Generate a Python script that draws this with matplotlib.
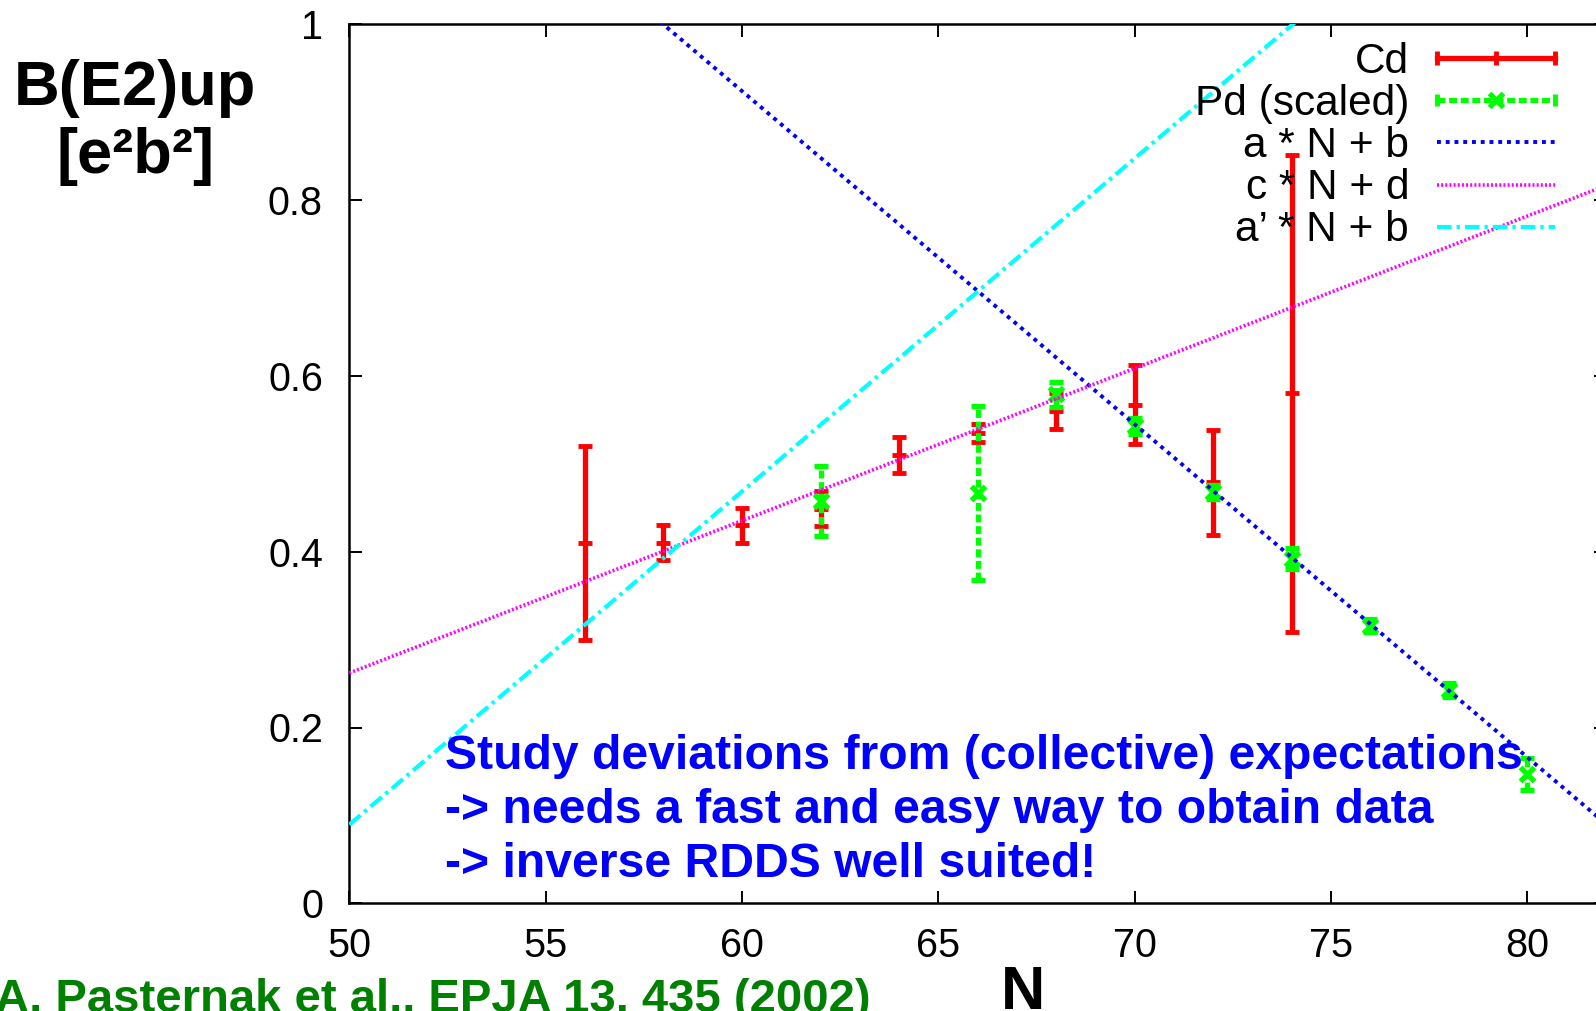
#!/usr/bin/env python3
"""B(E2)up systematics for Cd and (scaled) Pd isotopes versus neutron number."""

import numpy as np
import matplotlib
matplotlib.use("Agg")
import matplotlib.pyplot as plt
from matplotlib.lines import Line2D
from matplotlib.legend_handler import HandlerLine2D

W, H = 1596, 1011

# Cd measurements
cd_n = [56, 58, 60, 62, 64, 66, 68, 70, 72, 74]
cd_b = [0.410, 0.410, 0.430, 0.449, 0.510, 0.535, 0.560, 0.567, 0.479, 0.580]
cd_err = [0.110, 0.020, 0.020, 0.020, 0.020, 0.010, 0.020, 0.045, 0.060, 0.271]

# Pd measurements (scaled)
pd_n = [62, 66, 68, 70, 72, 74, 76, 78, 80]
pd_b = [0.458, 0.467, 0.579, 0.543, 0.468, 0.392, 0.316, 0.243, 0.147]
pd_err = [0.040, 0.099, 0.014, 0.009, 0.008, 0.012, 0.007, 0.008, 0.018]

# straight-line systematics
a, b = -0.0379, 3.198
c, d = 0.01733, -0.6045
a_p, b_p = 0.0379, -1.8055

y_ticks = [0, 0.2, 0.4, 0.6, 0.8, 1.0]
y_tick_labels = ["0", "0.2", "0.4", "0.6", "0.8", "1"]
x_ticks = [50, 55, 60, 65, 70, 75, 80]

notes = ["Study deviations from (collective) expectations",
         "-> needs a fast and easy way to obtain data",
         "-> inverse RDDS well suited!"]
reference = "A. Pasternak et al., EPJA 13, 435 (2002)"

RED = "#ff0000"
GREEN = "#00ff00"
BLUE = "#0000ff"
MAGENTA = "#ff00ff"
CYAN = "#00ffff"

plt.rcParams['font.family'] = ['Liberation Sans', 'DejaVu Sans']


def px(x, y):
    """pixel position -> figure fraction"""
    return x / W, 1 - y / H


fig = plt.figure(figsize=(W / 100, H / 100), dpi=100)
# the frame runs on past the right edge of the figure
ax = fig.add_axes([349.3 / W, 1 - 903.3 / H, (1606 - 349.3) / W, (903.3 - 24.3) / H])
ax.set_xlim(50, 82)
ax.set_ylim(0, 1)

cd = ax.errorbar(cd_n, cd_b, yerr=cd_err, fmt='_', color=RED, ms=10, mew=3.5,
                 elinewidth=3.8, capsize=5, capthick=3.5, zorder=3)
pd = ax.errorbar(pd_n, pd_b, yerr=pd_err, fmt='x', color=GREEN, ms=9.5, mew=3.8,
                 elinewidth=3.8, capsize=5, capthick=3.5, zorder=4)
pd[2][0].set_linestyle((0, (1.5, 0.7)))

n_line = np.array(ax.get_xlim())
l_ab, = ax.plot(n_line, a * n_line + b, color=BLUE, lw=2.8,
                ls=(0, (1, 1.25)), zorder=5)
l_cd, = ax.plot(n_line, c * n_line + d, color=MAGENTA, lw=2.6,
                ls=(0, (0.55, 0.6)), zorder=6)
l_apb, = ax.plot(n_line, a_p * n_line + b_p, color=CYAN, lw=3.0,
                 ls=(0, (3.5, 1.2, 0.8, 1.2)), zorder=7)

ax.set_xticks(x_ticks)
ax.set_yticks(y_ticks)
ax.set_yticklabels(y_tick_labels)
ax.tick_params(direction='in', length=9, width=1.4, top=True, right=True,
               labelsize=28.5, colors='black')
ax.tick_params(axis='x', pad=17)
ax.tick_params(axis='y', pad=19)
for sp in ax.spines.values():
    sp.set_linewidth(1.8)

# legend keys in gnuplot style: text on the left, sample on the right
cd_key = Line2D([], [], color=RED, lw=3.8, marker='|', ms=10, mew=3.5)
pd_key = Line2D([], [], color=GREEN, lw=3.8, ls=(0, (1.5, 0.7)),
                marker='|', ms=8, mew=3.5)
pd_mid = Line2D([], [], color=GREEN, lw=0, marker='x', ms=9.5, mew=3.8)
leg = ax.legend([cd_key, (pd_key, pd_mid), l_ab, l_cd, l_apb],
                ["Cd", "Pd (scaled)", "a * N + b", "c * N + d", "a\u2019 * N + b"],
                handler_map={pd_key: HandlerLine2D(numpoints=2),
                             pd_mid: HandlerLine2D(numpoints=1)},
                numpoints=3, markerfirst=False, frameon=False,
                fontsize=30.5, handlelength=3.4, handletextpad=0.35,
                labelspacing=0.05, borderpad=0, borderaxespad=0,
                loc='upper right', bbox_to_anchor=px(1568, 42),
                bbox_transform=fig.transFigure)
leg.set_zorder(10)

# axis labels
fig.text(*px(135, 88), "B(E2)up", fontsize=45.5, fontweight='bold',
         ha='center', va='center')
fig.text(*px(135, 157), "[e\u00b2b\u00b2]", fontsize=45.5, fontweight='bold',
         ha='center', va='center')
fig.text(*px(1023, 1009), "N", fontsize=44, fontweight='bold',
         ha='center', va='baseline')

for i, line in enumerate(notes):
    fig.text(*px(445, 769 + 54 * i), line, fontsize=34.7, fontweight='bold',
             color=BLUE, ha='left', va='baseline', zorder=12)

fig.text(*px(-5, 1012), reference, fontsize=34, fontweight='bold',
         color="#008000", ha='left', va='baseline')

fig.savefig("out.png", dpi=100)
